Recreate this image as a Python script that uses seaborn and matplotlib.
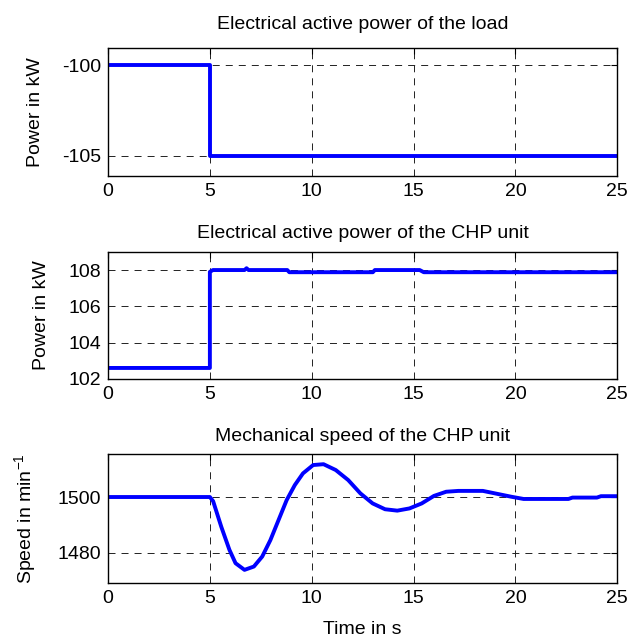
import matplotlib
matplotlib.use("Agg")
import matplotlib.pyplot as plt
import seaborn as sns
import pandas as pd

# load power step
t_load = [0, 5, 5, 25]
p_load = [-100, -100, -105, -105]

# CHP electrical power
t_chp = [0, 5, 5, 5.15, 6.7, 6.8, 6.9, 8.8, 8.9, 13.0, 13.1, 15.3, 15.5, 25]
p_chp = [102.6, 102.6, 107.9, 108.0, 108.0, 108.1, 108.0, 108.0, 107.88, 107.88,
         108.0, 108.0, 107.88, 107.88]

# CHP mechanical speed
t_speed = [0, 5.0, 5.16, 5.56, 5.96, 6.26, 6.7, 7.16, 7.57, 7.97, 8.37, 8.77, 9.17,
           9.57, 10.07, 10.58, 11.18, 11.79, 12.39, 12.99, 13.6, 14.2, 14.8, 15.4,
           16.0, 16.6, 17.2, 18.4, 19.0, 19.8, 20.4, 22.6, 22.8, 24.0, 24.2, 25]
n_speed = [1500, 1500, 1498.5, 1489.3, 1481, 1476.2, 1473.8, 1475, 1478.6, 1484.5,
           1491.7, 1498.9, 1504.3, 1508.5, 1511.5, 1511.8, 1509.7, 1506.1, 1501.3,
           1497.7, 1495.6, 1495.1, 1495.9, 1497.7, 1500.4, 1501.9, 1502.2, 1502.2,
           1501.3, 1500.1, 1499.3, 1499.3, 1499.8, 1499.8, 1500.3, 1500.3]

sns.set_style("white")
plt.rcParams["font.family"] = ["Liberation Sans", "DejaVu Sans"]
plt.rcParams["mathtext.fontset"] = "custom"
plt.rcParams["mathtext.rm"] = "Liberation Sans"
plt.rcParams["axes.unicode_minus"] = False
plt.rcParams["text.color"] = "black"
plt.rcParams["axes.labelcolor"] = "black"
plt.rcParams["xtick.color"] = "black"
plt.rcParams["ytick.color"] = "black"

fig = plt.figure(figsize=(6.43, 6.41), dpi=100)
L, W = 0.168, 0.792
axes = [fig.add_axes([L, 0.726, W, 0.199]),
        fig.add_axes([L, 0.409, W, 0.198]),
        fig.add_axes([L, 0.091, W, 0.200])]

panels = [
    (t_load, p_load, "Electrical active power of the load", "Power in kW",
     (-106.1, -99.05), [-105, -100], 14),
    (t_chp, p_chp, "Electrical active power of the CHP unit", "Power in kW",
     (102, 109), [102, 104, 106, 108], 10),
    (t_speed, n_speed, "Mechanical speed of the CHP unit", "Speed in min$^{-1}$",
     (1469.2, 1515.3), [1480, 1500], 10),
]

for ax, (t, y, title, ylab, ylim, yt, tpad) in zip(axes, panels):
    df = pd.DataFrame({"t": t, "y": y})
    sns.lineplot(data=df, x="t", y="y", ax=ax, sort=False, estimator=None,
                 color="#0000ff", linewidth=2.8)
    ax.set_xlim(0, 25)
    ax.set_ylim(*ylim)
    ax.set_xticks([0, 5, 10, 15, 20, 25])
    ax.set_yticks(yt)
    ax.grid(True, color="#222222", linestyle=(0, (7.2, 6.2)), linewidth=0.7)
    ax.tick_params(direction="in", length=4, labelsize=14, pad=5,
                   top=True, right=True)
    for s in ax.spines.values():
        s.set_color("black")
        s.set_linewidth(1.0)
    ax.set_title(title, fontsize=14, pad=tpad)
    ax.set_ylabel(ylab, fontsize=14, labelpad=13)
    ax.set_xlabel("")

axes[2].set_xlabel("Time in s", fontsize=14, labelpad=10)

fig.savefig("out.png", dpi=100)
